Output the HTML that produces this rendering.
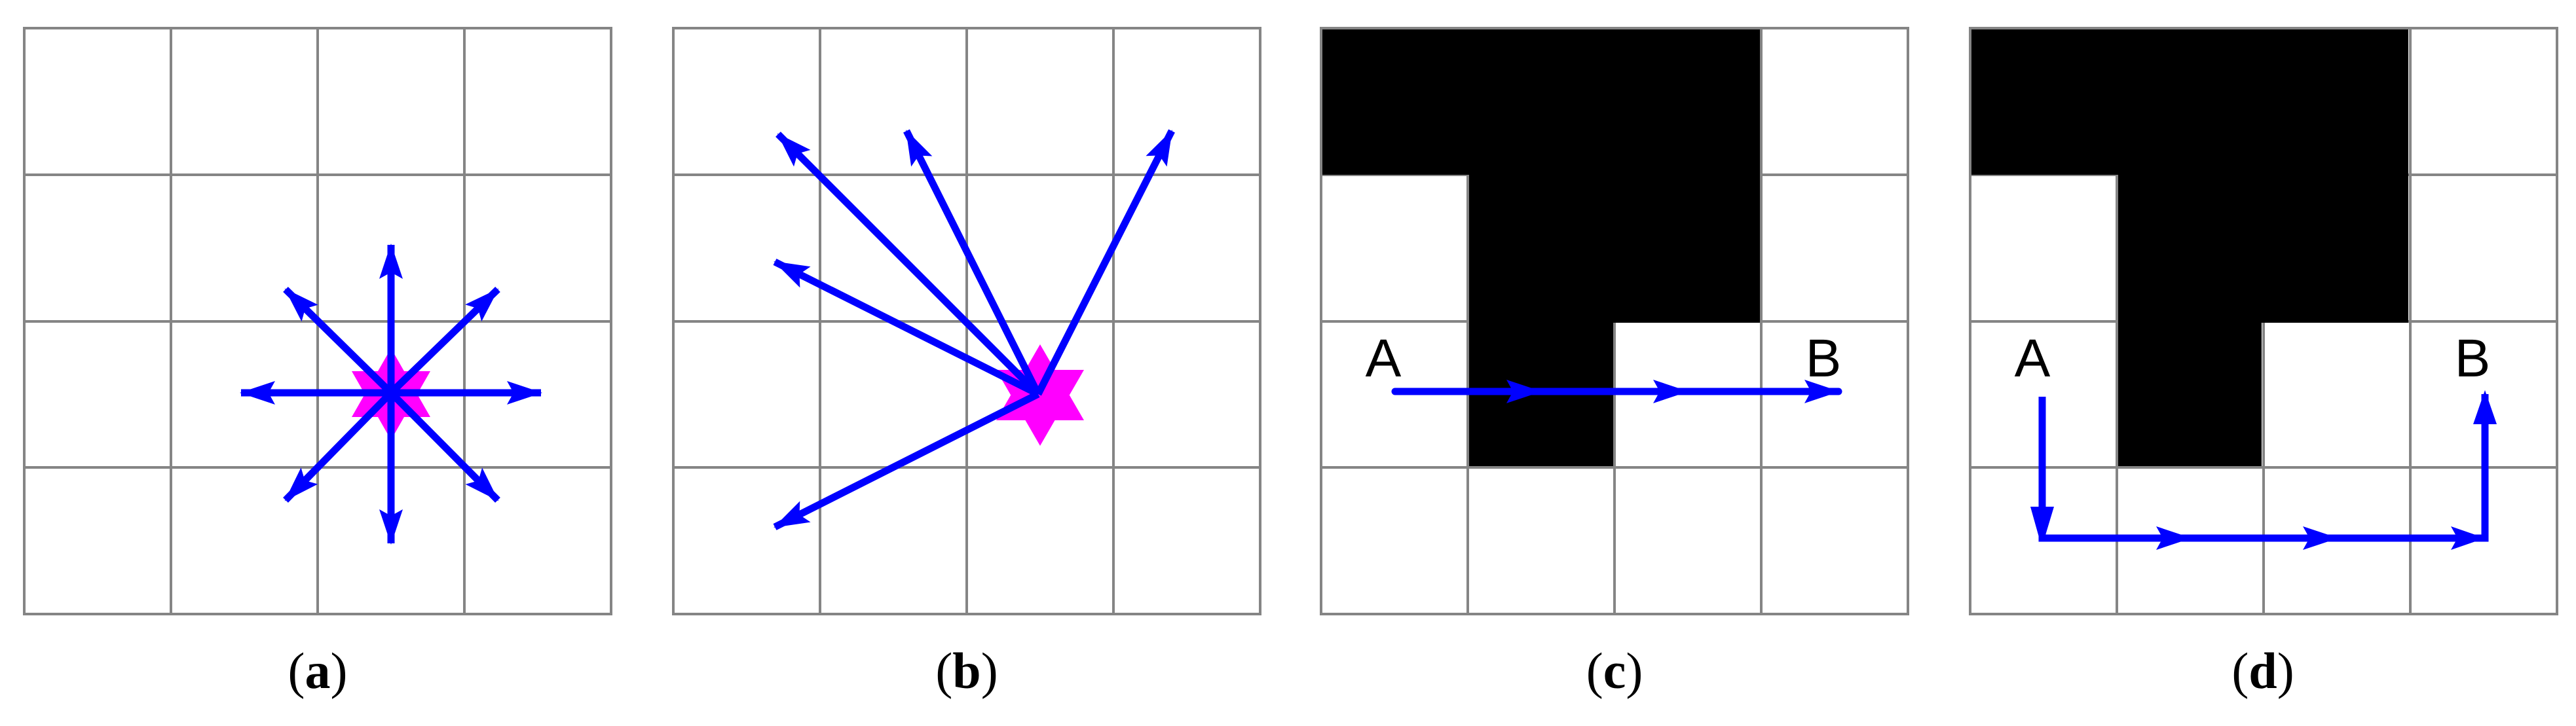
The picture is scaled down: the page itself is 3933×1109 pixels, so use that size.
<!DOCTYPE html>
<html><head><meta charset="utf-8"><style>html,body{margin:0;padding:0;background:#fff}svg{display:block}</style></head>
<body>
<svg width="3933" height="1109" viewBox="0 0 3933 1109" xmlns="http://www.w3.org/2000/svg">
<defs>
<marker id="ah" markerUnits="userSpaceOnUse" markerWidth="60" markerHeight="44" refX="52" refY="20" orient="auto" viewBox="0 0 60 44">
<polygon points="0,2 54,20 0,38 10,20" fill="#0000ff"/>
</marker>
<g id="grid" fill="none" stroke="#858585" stroke-width="4">
<rect x="0" y="0" width="896" height="895"/>
<line x1="224" y1="0" x2="224" y2="895"/><line x1="448" y1="0" x2="448" y2="895"/><line x1="672" y1="0" x2="672" y2="895"/>
<line x1="0" y1="224" x2="896" y2="224"/><line x1="0" y1="448" x2="896" y2="448"/><line x1="0" y1="671" x2="896" y2="671"/>
</g>
</defs>
<rect width="3933" height="1109" fill="#fff"/>

<!-- Panel a -->
<use href="#grid" x="37" y="43"/>
<polygon points="597,532 657,637 537,637" fill="#ff00ff"/><polygon points="597,672 657,567 537,567" fill="#ff00ff"/>
<g stroke="#0000ff" stroke-width="11" marker-end="url(#ah)">
<line x1="597" y1="600" x2="597" y2="374"/>
<line x1="597" y1="600" x2="597" y2="830"/>
<line x1="597" y1="600" x2="368" y2="600"/>
<line x1="597" y1="600" x2="826" y2="600"/>
<line x1="597" y1="600" x2="436" y2="442"/>
<line x1="597" y1="600" x2="760" y2="442"/>
<line x1="597" y1="600" x2="436" y2="764"/>
<line x1="597" y1="600" x2="760" y2="764"/>
</g>

<!-- Panel b -->
<use href="#grid" x="1028" y="43"/>
<polygon points="1588,526 1655,642 1521,642" fill="#ff00ff"/><polygon points="1588,681 1655,565 1521,565" fill="#ff00ff"/>
<g stroke="#0000ff" stroke-width="11" marker-end="url(#ah)">
<line x1="1585" y1="602" x2="1188" y2="205"/>
<line x1="1585" y1="602" x2="1384" y2="200"/>
<line x1="1585" y1="602" x2="1789" y2="200"/>
<line x1="1585" y1="602" x2="1183" y2="400"/>
<line x1="1585" y1="602" x2="1183" y2="805"/>
</g>

<!-- Panel c -->
<use href="#grid" x="2017" y="43"/>
<g fill="#000"><rect x="2019" y="45" width="668" height="222"/><rect x="2243" y="265" width="444" height="228"/><rect x="2243" y="489" width="220" height="223"/></g>
<text x="2112" y="575" font-family="Liberation Sans, sans-serif" font-size="82" text-anchor="middle">A</text>
<text x="2784" y="575" font-family="Liberation Sans, sans-serif" font-size="82" text-anchor="middle">B</text>
<line x1="2130" y1="598" x2="2807" y2="598" stroke="#0000ff" stroke-width="11" stroke-linecap="round" marker-end="url(#ah)"/>
<polygon points="2300,580 2354,598 2300,616 2310,598" fill="#0000ff"/>
<polygon points="2524,580 2578,598 2524,616 2534,598" fill="#0000ff"/>

<!-- Panel d -->
<use href="#grid" x="3008" y="43"/>
<g fill="#000"><rect x="3010" y="45" width="667" height="222"/><rect x="3234" y="265" width="443" height="228"/><rect x="3234" y="489" width="219" height="223"/></g>
<text x="3103" y="575" font-family="Liberation Sans, sans-serif" font-size="82" text-anchor="middle">A</text>
<text x="3775" y="575" font-family="Liberation Sans, sans-serif" font-size="82" text-anchor="middle">B</text>
<polyline points="3118,606 3118,822 3794,822 3794,602" fill="none" stroke="#0000ff" stroke-width="11" stroke-linejoin="miter"/>
<polygon points="3100,774 3136,774 3121,824 3114,824" fill="#0000ff"/>
<polygon points="3776,648 3812,648 3794,596" fill="#0000ff"/>
<polygon points="3292,804 3346,822 3292,840 3302,822" fill="#0000ff"/>
<polygon points="3516,804 3570,822 3516,840 3526,822" fill="#0000ff"/>
<polygon points="3742,804 3794,822 3742,840 3752,822" fill="#0000ff"/>

<!-- Labels -->
<g font-family="Liberation Serif, serif" font-size="78" text-anchor="middle">
<text x="485" y="1051">(<tspan font-weight="bold">a</tspan>)</text>
<text x="1476" y="1051">(<tspan font-weight="bold">b</tspan>)</text>
<text x="2465" y="1051">(<tspan font-weight="bold">c</tspan>)</text>
<text x="3455" y="1051">(<tspan font-weight="bold">d</tspan>)</text>
</g>
</svg>
</body></html>
